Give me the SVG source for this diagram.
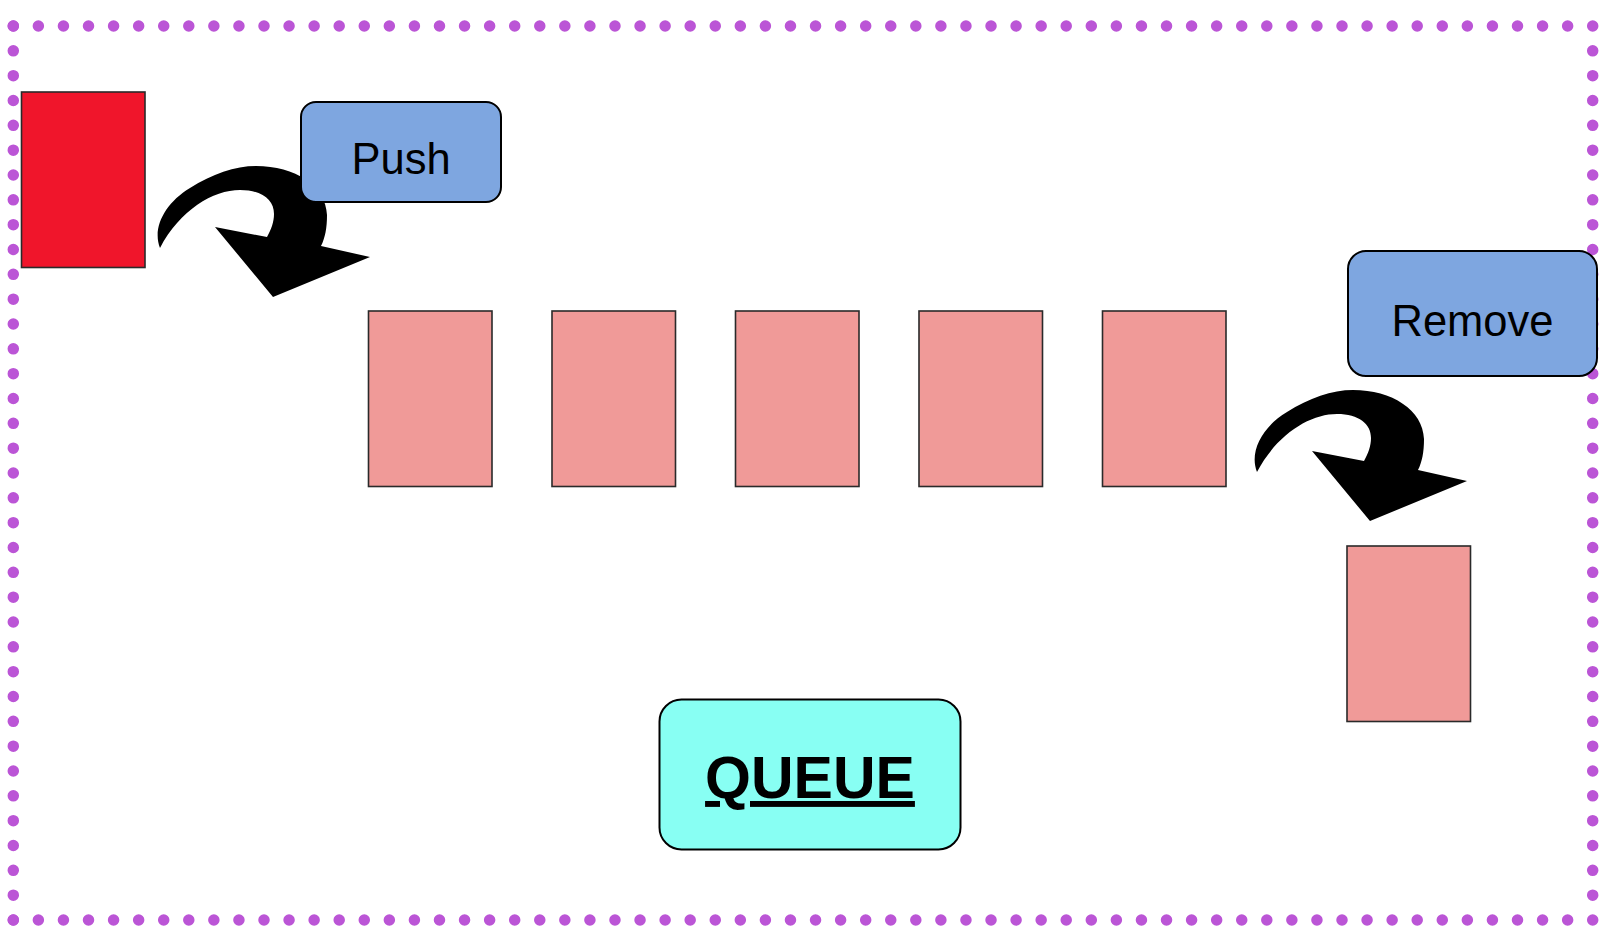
<svg xmlns="http://www.w3.org/2000/svg" width="1600" height="951" viewBox="0 0 1600 951">
<defs>
<style>
.dots{stroke:#bb55d6;stroke-width:11.5;stroke-linecap:round;fill:none}
.item{fill:#f09a98;stroke:#2a2a2a;stroke-width:1.6}
.btn{fill:#7ea6e0;stroke:#000;stroke-width:2}
.lbl{font-family:"Liberation Sans",Arial,sans-serif;font-size:43.5px;fill:#000;text-anchor:middle}
.curve{fill:#000;stroke:none}
</style>
<path id="curvedArrow" d="M160,248 C152,228 165,203 190,188 C212,174 235,166 256,166 C295,166 326,186 327,215 C327,228 325,238 321,246 L370,257 L273,297 L215,227 L267,237 C271,230 274,222 274,214 C274,200 262,190 240,190 C213,190 180,210 160,248 Z"/>
</defs>
<rect width="1600" height="951" fill="#fff"/>
<g id="border">
<line class="dots" x1="13.3" y1="26" x2="1592.7" y2="26" stroke-dasharray="0 25.07"/>
<line class="dots" x1="13.3" y1="920" x2="1592.7" y2="920" stroke-dasharray="0 25.07"/>
<line class="dots" x1="13.3" y1="26" x2="13.3" y2="920" stroke-dasharray="0 24.833"/>
<line class="dots" x1="1592.7" y1="26" x2="1592.7" y2="920" stroke-dasharray="0 24.833"/>
</g>
<g id="connectors">
<use href="#curvedArrow" class="curve"/>
<use href="#curvedArrow" class="curve" transform="translate(1097,224)"/>
</g>
<g id="new-item"><rect x="21.5" y="92" width="123.5" height="175.5" fill="#f0152b" stroke="#2a2a2a" stroke-width="1.6"/></g>
<g id="push"><rect class="btn" x="301" y="102" width="200" height="100" rx="15"/><text class="lbl" x="401" y="174">Push</text></g>
<g id="q1"><rect class="item" x="368.5" y="311" width="123.5" height="175.5"/></g>
<g id="q2"><rect class="item" x="552" y="311" width="123.5" height="175.5"/></g>
<g id="q3"><rect class="item" x="735.5" y="311" width="123.5" height="175.5"/></g>
<g id="q4"><rect class="item" x="919" y="311" width="123.5" height="175.5"/></g>
<g id="q5"><rect class="item" x="1102.5" y="311" width="123.5" height="175.5"/></g>
<g id="remove"><rect class="btn" x="1348" y="251" width="249" height="125" rx="18"/><text class="lbl" x="1472.5" y="336">Remove</text></g>
<g id="removed-item"><rect class="item" x="1347" y="546" width="123.5" height="175.5"/></g>
<g id="queue"><rect x="659.5" y="699.5" width="301" height="150" rx="22" fill="#88fff3" stroke="#000" stroke-width="2"/><text x="810" y="798" font-family="&quot;Liberation Sans&quot;,Arial,sans-serif" font-size="59" font-weight="bold" text-anchor="middle" text-decoration="underline" fill="#000">QUEUE</text></g>
</svg>
